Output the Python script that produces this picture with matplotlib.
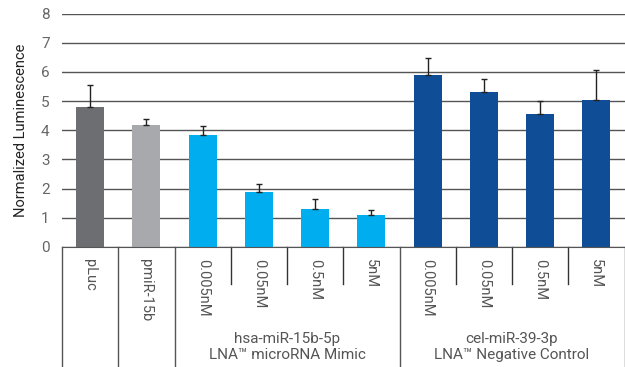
import numpy as np
import matplotlib.pyplot as plt
from matplotlib.transforms import blended_transform_factory

labels = ['pLuc', 'pmiR-15b', '0.005nM', '0.05nM', '0.5nM', '5nM',
          '0.005nM', '0.05nM', '0.5nM', '5nM']
values = [4.79, 4.18, 3.84, 1.88, 1.30, 1.10, 5.89, 5.31, 4.55, 5.03]
errors = [0.76, 0.20, 0.30, 0.27, 0.33, 0.16, 0.58, 0.45, 0.46, 1.02]
colors = ['#6d6e71', '#a7a9ac'] + ['#00aeef'] * 4 + ['#0f4e96'] * 4
groups = ['hsa-miR-15b-5p\nLNA\u2122 microRNA Mimic',
          'cel-miR-39-3p\nLNA\u2122 Negative Control']

plt.rcParams['font.family'] = ['Roboto', 'DejaVu Sans']

fig = plt.figure(figsize=(6.25, 3.67), dpi=100)
ax = fig.add_axes([0.0992, 0.327, 0.9, 0.636])

x = np.arange(len(values))
ax.set_axisbelow(True)
ax.grid(axis='y', color='#555555', lw=1.0)
ax.bar(x, values, width=0.5, color=colors, zorder=2)
ax.errorbar(x, values, yerr=[np.zeros(len(errors)), errors], fmt='none',
            ecolor='#222222', elinewidth=1.0, capsize=2, capthick=1.0, zorder=3)

ax.set_xlim(-0.5, len(values) - 0.5)
ax.set_ylim(0, 8)
ax.set_yticks(range(0, 9))
ax.tick_params(axis='y', length=0, pad=9, labelsize=11, labelcolor='#666666')
ax.set_xticks([])
for s in ['left', 'right', 'top']:
    ax.spines[s].set_visible(False)
ax.spines['bottom'].set_color('#555555')
ax.set_ylabel('Normalized Luminescence', fontsize=10.5, color='#222222', labelpad=9)

tr = blended_transform_factory(ax.transData, ax.transAxes)
long_lines = [-0.5, 0.5, 1.5, 5.5, 9.5]
short_lines = [2.5, 3.5, 4.5, 6.5, 7.5, 8.5]
for xl in long_lines:
    ax.plot([xl, xl], [0, -0.51], transform=tr, color='#555555', lw=1.0, clip_on=False)
for xl in short_lines:
    ax.plot([xl, xl], [0, -0.158], transform=tr, color='#333333', lw=1.0, clip_on=False)

for xi, lab in zip(x, labels):
    ax.text(xi, -0.05, lab, transform=tr, rotation=-90, ha='center', va='top',
            fontsize=10.5, color='#555555')

ax.text(3.5, -0.43, groups[0], transform=tr, ha='center', va='center',
        fontsize=11, color='#555555', linespacing=1.2)
ax.text(7.5, -0.43, groups[1], transform=tr, ha='center', va='center',
        fontsize=11, color='#555555', linespacing=1.2)

fig.savefig('out.png', dpi=100)
